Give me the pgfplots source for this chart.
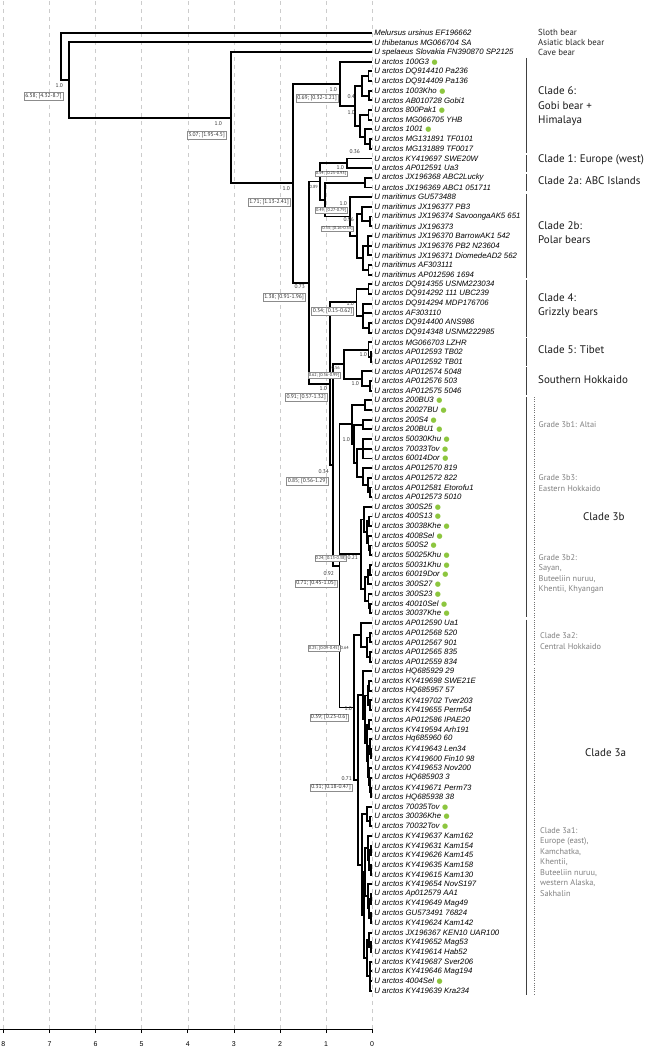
\documentclass[border=0pt]{standalone}
\usepackage{fontspec}
\setmainfont{Liberation Sans}
\newfontfamily\pts{PT Sans}
\newfontfamily\dejavu{DejaVu Sans}
\usepackage{pgfplots}
\usepackage{pgfplotstable}
\pgfplotsset{compat=1.18}
\definecolor{dotgreen}{HTML}{8DC63F}
\protected\def\gd{\hspace{2.5pt}{\upshape\dejavu\fontsize{7}{7}\selectfont\textcolor{dotgreen}{●}}}
\tikzset{
 post/.style={anchor=east, inner sep=0pt, font=\pts\fontsize{5.5}{6}\selectfont, text=black!80},
 tpost/.style={post, font=\pts\fontsize{4.4}{5}\selectfont},
 abox/.style={anchor=east, draw=black!45, line width=0.4pt, fill=white, inner sep=1.1pt, font=\pts\fontsize{5.6}{6}\selectfont, text=black!80},
 tbox/.style={abox, inner sep=0.7pt, font=\pts\fontsize{4.3}{5}\selectfont},
 clade/.style={anchor=west, inner sep=0pt, align=left, font=\pts\fontsize{11}{14.5}\selectfont, text=black!90},
 grade/.style={anchor=west, inner sep=0pt, align=left, font=\pts\fontsize{8.3}{10.5}\selectfont, text=black!50},
 common/.style={anchor=west, inner sep=0pt, font=\pts\fontsize{8.8}{9}\selectfont, text=black!85},
}
\pgfplotstableread[col sep=semicolon]{
y;label
1;Melursus ursinus EF196662
2;U thibetanus MG066704 SA
3;U spelaeus Slovakia FN390870 SP2125
4;U arctos 100G3\gd
5;U arctos DQ914410 Pa236
6;U arctos DQ914409 Pa136
7;U arctos 1003Kho\gd
8;U arctos AB010728 Gobi1
9;U arctos 800Pak1\gd
10;U arctos MG066705 YHB
11;U arctos 1001\gd
12;U arctos MG131891 TF0101
13;U arctos MG131889 TF0017
14;U arctos KY419697 SWE20W
15;U arctos AP012591 Ua3
16;U arctos JX196368 ABC2Lucky
17;U arctos JX196369 ABC1 051711
18;U maritimus GU573488
19;U maritimus JX196377 PB3
20;U maritimus JX196374 SavoongaAK5 651
21;U maritimus JX196373
22;U maritimus JX196370 BarrowAK1 542
23;U maritimus JX196376 PB2 N23604
24;U maritimus JX196371 DiomedeAD2 562
25;U maritimus AF303111
26;U maritimus AP012596 1694
27;U arctos DQ914355 USNM223034
28;U arctos DQ914292 111 UBC239
29;U arctos DQ914294 MDP176706
30;U arctos AF303110
31;U arctos DQ914400 ANS986
32;U arctos DQ914348 USNM222985
33;U arctos MG066703 LZHR
34;U arctos AP012593 TB02
35;U arctos AP012592 TB01
36;U arctos AP012574 5048
37;U arctos AP012576 503
38;U arctos AP012575 5046
39;U arctos 200BU3\gd
40;U arctos 20027BU\gd
41;U arctos 200S4\gd
42;U arctos 200BU1\gd
43;U arctos 50030Khu\gd
44;U arctos 70033Tov\gd
45;U arctos 60014Dor\gd
46;U arctos AP012570 819
47;U arctos AP012572 822
48;U arctos AP012581 Etorofu1
49;U arctos AP012573 5010
50;U arctos 300S25\gd
51;U arctos 400S13\gd
52;U arctos 30038Khe\gd
53;U arctos 4008Sel\gd
54;U arctos 500S2\gd
55;U arctos 50025Khu\gd
56;U arctos 50031Khu\gd
57;U arctos 60019Dor\gd
58;U arctos 300S27\gd
59;U arctos 300S23\gd
60;U arctos 40010Sel\gd
61;U arctos 30037Khe\gd
62;U arctos AP012590 Ua1
63;U arctos AP012568 520
64;U arctos AP012567 901
65;U arctos AP012565 835
66;U arctos AP012559 834
67;U arctos HQ685929 29
68;U arctos KY419698 SWE21E
69;U arctos HQ685957 57
70;U arctos KY419702 Tver203
71;U arctos KY419655 Perm54
72;U arctos AP012586 IPAE20
73;U arctos KY419594 Arh191
74;U arctos Hq685960 60
75;U arctos KY419643 Len34
76;U arctos KY419600 Fin10 98
77;U arctos KY419653 Nov200
78;U arctos HQ685903 3
79;U arctos KY419671 Perm73
80;U arctos HQ685938 38
81;U arctos 70035Tov\gd
82;U arctos 30036Khe\gd
83;U arctos 70032Tov\gd
84;U arctos KY419637 Kam162
85;U arctos KY419631 Kam154
86;U arctos KY419626 Kam145
87;U arctos KY419635 Kam158
88;U arctos KY419615 Kam130
89;U arctos KY419654 NovS197
90;U arctos Ap012579 AA1
91;U arctos KY419649 Mag49
92;U arctos GU573491 76824
93;U arctos KY419624 Kam142
94;U arctos JX196367 KEN10 UAR100
95;U arctos KY419652 Mag53
96;U arctos KY419614 Hab52
97;U arctos KY419687 Sver206
98;U arctos KY419646 Mag194
99;U arctos 4004Sel\gd
100;U arctos KY419639 Kra234
}\tips
\pgfplotstableread{
x y
0 -5
0.08 -5
0.08 -6
0 -6
nan nan
0 -7
0.06 -7
0.06 -8
0 -8
nan nan
0.08 -5.5
0.22 -5.5
0.22 -7.5
0.06 -7.5
nan nan
0 -9
0.08 -9
0.08 -10
0 -10
nan nan
0 -12
0.05 -12
0.05 -13
0 -13
nan nan
0 -11
0.15 -11
0.15 -12.5
0.05 -12.5
nan nan
0.08 -9.5
0.26 -9.5
0.26 -11.75
0.15 -11.75
nan nan
0.22 -6.5
0.38 -6.5
0.38 -10.625
0.26 -10.625
nan nan
0 -4
0.69 -4
0.69 -8.5625
0.38 -8.5625
nan nan
0 -14
0.54 -14
0.54 -15
0 -15
nan nan
0 -16
0.16 -16
0.16 -17
0 -17
nan nan
0 -20
0.05 -20
0.05 -21
0 -21
nan nan
0 -19
0.22 -19
0.22 -20.5
0.05 -20.5
nan nan
0 -22
0.10 -22
0.10 -24
0 -24
nan nan
0.10 -23
0 -23
nan nan
0 -25
0.08 -25
0.08 -26
0 -26
nan nan
0.10 -23
0.20 -23
0.20 -25.5
0.08 -25.5
nan nan
0.22 -19.75
0.33 -19.75
0.33 -24.25
0.20 -24.25
nan nan
0 -18
0.49 -18
0.49 -22
0.33 -22
nan nan
0.16 -16.5
1.02 -16.5
1.02 -20
0.49 -20
nan nan
0.54 -14.5
1.13 -14.5
1.13 -18.25
1.02 -18.25
nan nan
0 -27
0.08 -27
0.08 -28
0 -28
nan nan
0 -31
0.06 -31
0.06 -32
0 -32
nan nan
0 -29
0.20 -29
0.20 -31.5
0.06 -31.5
nan nan
0.20 -30
0 -30
nan nan
0.08 -27.5
0.34 -27.5
0.34 -30.25
0.20 -30.25
nan nan
0 -34
0.03 -34
0.03 -35
0 -35
nan nan
0 -33
0.08 -33
0.08 -34.5
0.03 -34.5
nan nan
0 -37
0.05 -37
0.05 -38
0 -38
nan nan
0 -36
0.23 -36
0.23 -37.5
0.05 -37.5
nan nan
0.08 -33.75
0.62 -33.75
0.62 -36.75
0.23 -36.75
nan nan
0 -39
0.15 -39
0.15 -40
0 -40
nan nan
0 -41
0.20 -41
0.20 -42
0 -42
nan nan
0 -43
0.19 -43
0.19 -45
0 -45
nan nan
0.19 -44
0 -44
nan nan
0 -48
0.05 -48
0.05 -49
0 -49
nan nan
0 -47
0.10 -47
0.10 -48.5
0.05 -48.5
nan nan
0 -46
0.20 -46
0.20 -47.75
0.10 -47.75
nan nan
0.19 -44
0.33 -44
0.33 -46.875
0.20 -46.875
nan nan
0.20 -41.5
0.40 -41.5
0.40 -45.4375
0.33 -45.4375
nan nan
0.15 -39.5
0.44 -39.5
0.44 -43.4688
0.40 -43.4688
nan nan
0 -51
0.06 -51
0.06 -52
0 -52
nan nan
0 -54
0.04 -54
0.04 -55
0 -55
nan nan
0 -53
0.08 -53
0.08 -54.5
0.04 -54.5
nan nan
0.06 -51.5
0.12 -51.5
0.12 -53.75
0.08 -53.75
nan nan
0 -50
0.17 -50
0.17 -52.625
0.12 -52.625
nan nan
0 -56
0.05 -56
0.05 -57
0 -57
nan nan
0.05 -56.5
0.10 -56.5
0.10 -58
0 -58
nan nan
0 -60
0.04 -60
0.04 -61
0 -61
nan nan
0 -59
0.08 -59
0.08 -60.5
0.04 -60.5
nan nan
0.10 -57.25
0.15 -57.25
0.15 -59.75
0.08 -59.75
nan nan
0.17 -51.3125
0.24 -51.3125
0.24 -58.5
0.15 -58.5
nan nan
0 -63
0.05 -63
0.05 -64
0 -64
nan nan
0 -65
0.05 -65
0.05 -66
0 -66
nan nan
0.05 -63.5
0.12 -63.5
0.12 -65.5
0.05 -65.5
nan nan
0 -62
0.25 -62
0.25 -64.5
0.12 -64.5
nan nan
0 -68
0.06 -68
0.06 -69
0 -69
nan nan
0 -70
0.04 -70
0.04 -71
0 -71
nan nan
0.06 -68.5
0.10 -68.5
0.10 -70.5
0.04 -70.5
nan nan
0 -72
0.06 -72
0.06 -73
0 -73
nan nan
0 -75
0.02 -75
0.02 -76
0 -76
nan nan
0 -74
0.05 -74
0.05 -75.5
0.02 -75.5
nan nan
0 -79
0.03 -79
0.03 -80
0 -80
nan nan
0 -78
0.05 -78
0.05 -79.5
0.03 -79.5
nan nan
0 -77
0.07 -77
0.07 -78.75
0.05 -78.75
nan nan
0.05 -74.75
0.09 -74.75
0.09 -77.875
0.07 -77.875
nan nan
0.06 -72.5
0.12 -72.5
0.12 -76.3125
0.09 -76.3125
nan nan
0.10 -69.5
0.15 -69.5
0.15 -74.4063
0.12 -74.4063
nan nan
0 -67
0.20 -67
0.20 -71.9531
0.15 -71.9531
nan nan
0 -82
0.04 -82
0.04 -83
0 -83
nan nan
0 -81
0.12 -81
0.12 -82.5
0.04 -82.5
nan nan
0 -85
0.03 -85
0.03 -86
0 -86
nan nan
0 -87
0.03 -87
0.03 -88
0 -88
nan nan
0.03 -85.5
0.06 -85.5
0.06 -87.5
0.03 -87.5
nan nan
0 -84
0.10 -84
0.10 -86.5
0.06 -86.5
nan nan
0 -90
0.03 -90
0.03 -91
0 -91
nan nan
0 -92
0.03 -92
0.03 -93
0 -93
nan nan
0.03 -90.5
0.06 -90.5
0.06 -92.5
0.03 -92.5
nan nan
0 -89
0.10 -89
0.10 -91.5
0.06 -91.5
nan nan
0 -95
0.03 -95
0.03 -96
0 -96
nan nan
0 -94
0.07 -94
0.07 -95.5
0.03 -95.5
nan nan
0 -97
0.04 -97
0.04 -100
0 -100
nan nan
0.04 -98
0 -98
nan nan
0.04 -99
0 -99
nan nan
0.10 -85.25
0.15 -85.25
0.15 -90.25
0.10 -90.25
nan nan
0.07 -94.75
0.12 -94.75
0.12 -98.5
0.04 -98.5
nan nan
0.15 -87.75
0.18 -87.75
0.18 -96.625
0.12 -96.625
nan nan
0.12 -81.75
0.22 -81.75
0.22 -92.1875
0.18 -92.1875
nan nan
0.20 -69.4766
0.31 -69.4766
0.31 -86.9688
0.22 -86.9688
nan nan
0.25 -63.25
0.39 -63.25
0.39 -78.2227
0.31 -78.2227
nan nan
0.44 -41.4844
0.71 -41.4844
0.71 -70.7363
0.39 -70.7363
nan nan
0.71 -54.9063
0.24 -54.9063
nan nan
0.62 -35.25
0.85 -35.25
0.85 -56.1104
0.71 -56.1104
nan nan
0.34 -28.875
0.91 -28.875
0.91 -45.6802
0.85 -45.6802
nan nan
1.13 -16.375
1.38 -16.375
1.38 -37.2776
0.91 -37.2776
nan nan
0.69 -6.2813
1.71 -6.2813
1.71 -26.8263
1.38 -26.8263
nan nan
0 -3
3.07 -3
3.07 -16.5538
1.71 -16.5538
nan nan
0 -2
6.58 -2
6.58 -9.7769
3.07 -9.7769
nan nan
0 -1
6.76 -1
6.76 -5.8885
6.58 -5.8885
}\tree
\begin{document}
\begin{tikzpicture}
\begin{axis}[
  at={(0pt,0pt)}, anchor=south west,
  scale only axis, width=646pt, height=1029pt,
  x dir=reverse,
  xmin=-5.94, xmax=8.074, ymin=-103.96, ymax=2.379,
  axis line style={draw=none},
  xtick={0,1,...,8}, ytick=\empty,
  xtick pos=left, xtick align=outside,
  major tick length=4pt,
  tick style={black, line width=0.6pt},
  xmajorgrids,
  grid style={gray!40, line width=0.5pt, dash pattern=on 4pt off 4pt},
  xticklabel style={font=\fontsize{7}{8}\selectfont, yshift=-5pt},
  /pgf/number format/assume math mode=true,
  clip=false,
]
\addplot[black, line width=1.9pt, line join=miter, unbounded coords=jump, mark=none] table[x=x, y=y] {\tree};
\addplot[draw=none, mark=none, nodes near coords, point meta=explicit symbolic,
  every node near coord/.append style={anchor=west, inner sep=0pt, xshift=2pt, text=black, font=\fontsize{7.8}{8}\selectfont\itshape}]
  table[x expr=0, y expr=-\thisrow{y}, meta=label] {\tips};
\addplot[black, line width=0.6pt, mark=none] coordinates {(8.074,-103.96) (0,-103.96)};
% clade brackets
\addplot[black!75, line width=0.7pt, mark=none] coordinates {(-3.336,-3.6) (-3.336,-13.4)};
\addplot[black!75, line width=0.7pt, mark=none] coordinates {(-3.336,-13.65) (-3.336,-15.35)};
\addplot[black!75, line width=0.7pt, mark=none] coordinates {(-3.336,-15.65) (-3.336,-17.35)};
\addplot[black!75, line width=0.7pt, mark=none] coordinates {(-3.336,-17.65) (-3.336,-26.4)};
\addplot[black!75, line width=0.7pt, mark=none] coordinates {(-3.336,-26.6) (-3.336,-32.4)};
\addplot[black!75, line width=0.7pt, mark=none] coordinates {(-3.336,-32.6) (-3.336,-35.4)};
\addplot[black!75, line width=0.7pt, mark=none] coordinates {(-3.336,-35.6) (-3.336,-38.4)};
\addplot[black!75, line width=0.7pt, mark=none] coordinates {(-3.336,-38.65) (-3.336,-61.4)};
\addplot[black!75, line width=0.7pt, mark=none] coordinates {(-3.336,-61.65) (-3.336,-100.4)};
\addplot[black!55, line width=0.6pt, dash pattern=on 1pt off 1.2pt, mark=none] coordinates {(-3.521,-38.65) (-3.521,-61.4)};
\addplot[black!55, line width=0.6pt, dash pattern=on 1pt off 1.2pt, mark=none] coordinates {(-3.521,-61.65) (-3.521,-66.4)};
\addplot[black!55, line width=0.6pt, dash pattern=on 1pt off 1.2pt, mark=none] coordinates {(-3.521,-66.65) (-3.521,-100.4)};
\end{axis}
\begin{scope}[x=1pt, y=-1pt, shift={(0pt,1029pt)}]
% right column labels
\node[common] at (538,32.7) {Sloth bear};
\node[common] at (538,42.4) {Asiatic black bear};
\node[common] at (538,52.1) {Cave bear};
\node[clade] at (538,106.5) {Clade 6:\\Gobi bear +\\Himalaya};
\node[clade] at (538,160) {Clade 1: Europe (west)};
\node[clade] at (538,180.5) {Clade 2a: ABC Islands};
\node[clade] at (538,232.5) {Clade 2b:\\Polar bears};
\node[clade] at (538,305.5) {Clade 4:\\Grizzly bears};
\node[clade] at (538,350) {Clade 5: Tibet};
\node[clade] at (538,380) {Southern Hokkaido};
\node[clade] at (583,516.7) {Clade 3b};
\node[clade] at (585,752.7) {Clade 3a};
\node[grade] at (538.5,425) {Grade 3b1: Altai};
\node[grade] at (538.5,483) {Grade 3b3:\\Eastern Hokkaido};
\node[grade] at (538.5,574) {Grade 3b2:\\Sayan,\\Buteeliin nuruu,\\Khentii, Khyangan};
\node[grade] at (540,641.3) {Clade 3a2:\\Central Hokkaido};
\node[grade] at (540,862) {Clade 3a1:\\Europe (east),\\Kamchatka,\\Khentii,\\Buteeliin nuruu,\\western Alaska,\\Sakhalin};
% node support and age labels
\node[post] at (63,86) {1.0};
\node[abox] at (63,96) {6.58; [4.32-8.7]};
\node[post] at (222,124) {1.0};
\node[abox] at (226,135) {3.07; [1.95-4.5]};
\node[post] at (290,189) {1.0};
\node[abox] at (290,202) {1.71; [1.13-2.41]};
\node[post] at (305,287) {0.73};
\node[abox] at (305,297) {1.38; [0.91-1.96]};
\node[post] at (337,90) {1.0};
\node[abox] at (338,98) {0.69; [0.32-1.21]};
\node[post] at (355,97) {0.4};
\node[post] at (355,113) {1.0};
\node[post] at (360,152) {0.36};
\node[post] at (344,168) {1.0};
\node[tbox] at (347,173.5) {0.54; [0.25-0.93]};
\node[tpost] at (318,187) {0.89};
\node[post] at (347,203.5) {1.0};
\node[tbox] at (347,210) {0.49; [0.27-0.79]};
\node[post] at (354,220) {0.96};
\node[tbox] at (353.5,228.5) {0.33; [0.16-0.53]};
\node[post] at (354,303.5) {1.0};
\node[abox] at (353.5,311) {0.34; [0.15-0.62]};
\node[post] at (367,355) {1.0};
\node[tpost] at (340,367.5) {0.56};
\node[tbox] at (340,375) {0.62; [0.36-0.99]};
\node[post] at (359,384) {1.0};
\node[post] at (327,388.5) {1.0};
\node[abox] at (327,397) {0.91; [0.57-1.32]};
\node[post] at (350,439.5) {1.0};
\node[post] at (329,472) {0.34};
\node[abox] at (328.5,481) {0.85; [0.56-1.29]};
\node[tbox] at (346.7,558.3) {0.24; [0.13-0.38]};
\node[post] at (358,557.7) {0.21};
\node[post] at (334,573.5) {0.92};
\node[abox] at (337,583.5) {0.71; [0.45-1.05]};
\node[tbox] at (340,648.3) {0.25; [0.09-0.45]};
\node[tpost] at (349,648.3) {0.64};
\node[post] at (352,708.5) {1.0};
\node[abox] at (348.5,717.5) {0.39; [0.23-0.6]};
\node[post] at (352,779) {0.71};
\node[abox] at (352,787.5) {0.31; [0.18-0.47]};
\end{scope}
\pgfresetboundingbox
\path[use as bounding box] (0pt,-20pt) rectangle (646pt,1029pt);
\end{tikzpicture}
\end{document}
